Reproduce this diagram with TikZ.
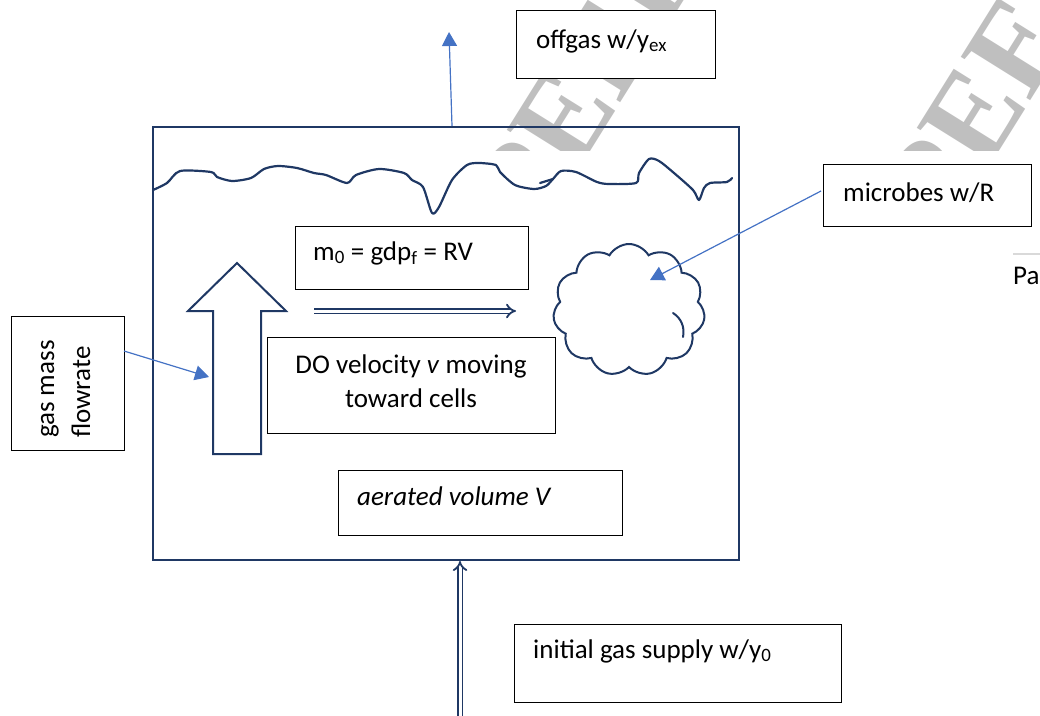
\documentclass[tikz,border=0pt]{standalone}
\usepackage{fontspec}
\setmainfont{Carlito}
\newfontfamily\wmfont{Liberation Serif}
\usetikzlibrary{arrows.meta,shapes.symbols}
\definecolor{navy}{HTML}{1F3864}
\definecolor{linkblue}{HTML}{4472C4}
\definecolor{wmgray}{HTML}{BFBFBF}
\definecolor{rulegray}{HTML}{D9D9D9}

\begin{document}
\begin{tikzpicture}[x=1pt,y=-1pt,
  txtbox/.style={draw=black, line width=1.3pt, fill=white, inner sep=0pt, anchor=north west},
  lbl/.style={font=\fontsize{27}{33}\selectfont, inner sep=0pt, anchor=base west},
  pointer/.style={draw=linkblue, line width=1.2pt, -{Triangle[length=14pt,width=15pt]}},
  tankline/.style={draw=navy, line width=2.4pt},
  dbl/.style={draw=navy, line width=1.8pt, double=white, double distance=3pt, -{Implies}},
  wm/.style={font=\wmfont\bfseries\fontsize{125}{125}\selectfont, text=wmgray, inner sep=0pt, anchor=base west, rotate=58}]
\useasboundingbox (0,0) rectangle (1040,715);

% background watermark, only visible in the top band
\begin{scope}
  \clip (0,0) rectangle (1040,150);
  \node[wm] (wmA) at (535,240) {PEER};
  \node[wm] (wmB) at (945,238) {PEER};
\end{scope}

% aeration tank
\node[tankline, minimum width=586pt, minimum height=433pt, inner sep=0pt, anchor=north west] (tank) at (152,126) {};

% liquid surface
\draw[navy, line width=2.2pt, line join=round, line cap=round]
  plot[smooth, tension=0.45] coordinates {
  (153,190) (167,183) (180,171) (211,172) (217,177) (232,181) (251,178)
  (264,169) (278,166) (297,168) (314,173) (326,175) (347,183) (356,175)
  (379,169) (404,173) (412,180) (423,187) (432,213) (439,207) (452,180)
  (467,165) (479,163) (496,165) (500,172) (515,185) (534,189) (546,186)
  (553,179) (561,171) (576,172) (597,182) (609,184) (636,183) (639,173)
  (649,159) (659,161) (674,173) (693,190) (699,200) (704,188) (710,183)
  (727,182) (732,178)};
\draw[navy, line width=2.2pt, line cap=round] (540,183) -- (553,179);

% gas flow block arrow
\draw[draw=navy, line width=2pt, fill=white, line join=miter]
  (237,263) -- (286,311) -- (261,311) -- (261,454) -- (213,454) -- (213,311) -- (188,311) -- cycle;
\coordinate (arrowside) at (209,377);

% microbial floc
\node[cloud, draw=navy, line width=2pt, fill=white, cloud puffs=11, cloud puff arc=120,
      aspect=1.2, minimum width=152pt, minimum height=132pt, inner sep=0pt] (cells) at (629,310) {};
\draw[navy, line width=2pt, line cap=round] (673,313) .. controls (681,318) and (685,327) .. (683,337);
\coordinate (cellpt) at (650,280);

% text boxes
\node[txtbox, minimum width=199pt, minimum height=68pt] (offbox) at (516,10) {};
\node[lbl] (offtxt) at (536,48) {offgas w/y\textsubscript{ex}};

\node[txtbox, minimum width=208pt, minimum height=62pt] (microbox) at (823,164) {};
\node[lbl] (microtxt) at (843,201) {microbes w/R};

\node[txtbox, minimum width=233pt, minimum height=63pt] (mbox) at (295,226) {};
\node[lbl] (mtxt) at (313,260) {m\textsubscript{0} = gdp\textsubscript{f} = RV};

\node[txtbox, minimum width=288pt, minimum height=96pt] (dobox) at (267,337) {};
\node[lbl, anchor=base] (dotxtA) at (411,373) {DO velocity \textit{v} moving};
\node[lbl, anchor=base] (dotxtB) at (411,407) {toward cells};

\node[txtbox, minimum width=284pt, minimum height=65pt] (volbox) at (338,470) {};
\node[lbl] (voltxt) at (357,505) {\itshape aerated volume V};

\node[txtbox, minimum width=327pt, minimum height=78pt] (supbox) at (514,624) {};
\node[lbl] (suptxt) at (533,658) {initial gas supply w/y\textsubscript{0}};

\node[txtbox, minimum width=113pt, minimum height=134pt] (flowbox) at (11,316) {};
\node[lbl, rotate=90] (flowtxtA) at (54,438) {gas mass};
\node[lbl, rotate=90] (flowtxtB) at (90,438) {flowrate};

% page remnant at the right edge
\draw[rulegray, line width=2pt] (1013,254) -- (1040,254);
\node[lbl] (pagetxt) at (1013,284) {Pa};

% connectors
\coordinate (gasout) at (452,126);
\coordinate (venttip) at (449,32);
\draw[pointer] (gasout) -- (venttip);
\coordinate (microin) at (821,191);
\draw[pointer] (microin) -- (cellpt);
\coordinate (flowout) at (124,351);
\draw[pointer] (flowout) -- (arrowside);

\coordinate (dostart) at (314,311);
\coordinate (doend) at (516,311);
\draw[dbl] (dostart) -- (doend);
\coordinate (feed) at (460,716);
\coordinate (inlet) at (460,561);
\draw[dbl] (feed) -- (inlet);
\end{tikzpicture}
\end{document}
